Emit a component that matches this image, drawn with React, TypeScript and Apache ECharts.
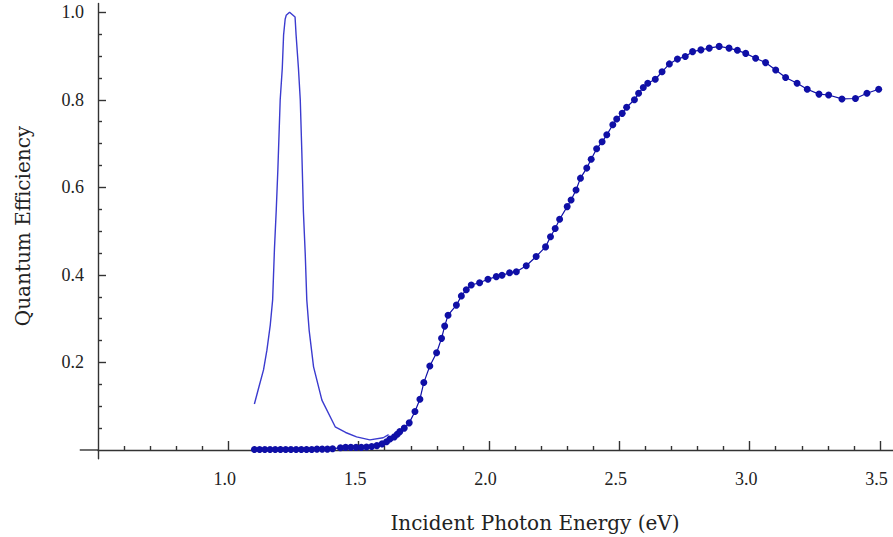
import React, { useEffect, useRef } from "react";
import * as echarts from "echarts";

// Thin reference line (emission/absorption peak)
const peakEnergy = [
  1.1, 1.116, 1.135, 1.148, 1.161, 1.17, 1.177, 1.184, 1.19, 1.199, 1.207, 1.212,
  1.218, 1.222, 1.235, 1.256, 1.26, 1.269, 1.276, 1.282, 1.288, 1.295, 1.301,
  1.31, 1.327, 1.359, 1.41, 1.45, 1.492, 1.543, 1.594, 1.615,
];
const peakValue = [
  0.105, 0.141, 0.183, 0.228, 0.286, 0.343, 0.46, 0.55, 0.64, 0.8, 0.872, 0.948,
  0.984, 0.993, 1.0, 0.989, 0.948, 0.872, 0.8, 0.68, 0.545, 0.449, 0.343,
  0.274, 0.19, 0.114, 0.053, 0.04, 0.03, 0.023, 0.028, 0.035,
];

// Measured quantum efficiency (dotted series)
const qeEnergy = [
  1.1, 1.12, 1.14, 1.16, 1.18, 1.2, 1.22, 1.24, 1.26, 1.28, 1.3, 1.32, 1.34, 1.36,
  1.38, 1.4, 1.43, 1.45, 1.47, 1.49, 1.51, 1.53, 1.55, 1.57, 1.59, 1.607, 1.62,
  1.637, 1.648, 1.658, 1.675, 1.694, 1.716, 1.735, 1.75, 1.773, 1.799, 1.818,
  1.83, 1.843, 1.875, 1.894, 1.913, 1.932, 1.964, 1.996, 2.028, 2.05, 2.079,
  2.105, 2.143, 2.181, 2.217, 2.236, 2.254, 2.271, 2.3, 2.315, 2.334, 2.351,
  2.375, 2.392, 2.413, 2.434, 2.452, 2.475, 2.49, 2.511, 2.528, 2.558, 2.574,
  2.592, 2.609, 2.638, 2.664, 2.692, 2.723, 2.753, 2.781, 2.813, 2.845, 2.883,
  2.921, 2.953, 2.985, 3.023, 3.061, 3.1, 3.138, 3.182, 3.221, 3.266, 3.303,
  3.354, 3.406, 3.45, 3.495,
];
const qeValue = [
  0.001, 0.001, 0.001, 0.001, 0.001, 0.001, 0.001, 0.001, 0.001, 0.001, 0.001,
  0.001, 0.002, 0.002, 0.002, 0.003, 0.005, 0.006, 0.006, 0.006, 0.006, 0.007,
  0.008, 0.01, 0.014, 0.019, 0.025, 0.03, 0.036, 0.042, 0.05, 0.062, 0.088,
  0.116, 0.154, 0.192, 0.222, 0.255, 0.283, 0.308, 0.331, 0.352, 0.366, 0.377,
  0.382, 0.39, 0.396, 0.399, 0.405, 0.407, 0.421, 0.442, 0.464, 0.487, 0.506,
  0.527, 0.556, 0.571, 0.594, 0.621, 0.644, 0.664, 0.688, 0.704, 0.72, 0.743,
  0.756, 0.769, 0.783, 0.8, 0.815, 0.828, 0.838, 0.847, 0.864, 0.882, 0.893,
  0.899, 0.91, 0.914, 0.918, 0.922, 0.918, 0.913, 0.906, 0.895, 0.885, 0.868,
  0.851, 0.838, 0.824, 0.813, 0.811, 0.802, 0.803, 0.815, 0.824,
];

// Axis ticks and labels
const xLabelTicks = [1.0, 1.5, 2.0, 2.5, 3.0, 3.5];
const xMinorTicks = [
  0.6, 0.7, 0.8, 0.9, 1.1, 1.2, 1.3, 1.4, 1.6, 1.7, 1.8, 1.9, 2.1, 2.2, 2.3, 2.4,
  2.6, 2.7, 2.8, 2.9, 3.1, 3.2, 3.3, 3.4,
];
const yLabelTicks = [0.2, 0.4, 0.6, 0.8, 1.0];
const yMinorTicks = [
  0.05, 0.1, 0.15, 0.25, 0.3, 0.35, 0.45, 0.5, 0.55, 0.65, 0.7, 0.75, 0.85, 0.9,
  0.95,
];

const xTitle = "Incident Photon Energy (eV)";
const yTitle = "Quantum Efficiency";

const AXIS_COLOR = "#333";
const TEXT_COLOR = "#222";

export default function App() {
  const ref = useRef<HTMLDivElement>(null);

  useEffect(() => {
    if (!ref.current) return;
    const chart = echarts.init(ref.current, undefined, { renderer: "svg" });

    const xMin = 0.5;
    const xMax = 3.55;
    const yMin = -0.02;
    const yMax = 1.02;

    const baseX = {
      type: "value" as const,
      min: xMin,
      max: xMax,
      position: "bottom" as const,
      splitLine: { show: false },
    };
    const baseY = {
      type: "value" as const,
      min: yMin,
      max: yMax,
      position: "left" as const,
      splitLine: { show: false },
    };

    chart.setOption({
      animation: false,
      backgroundColor: "#fff",
      grid: {
        left: 98,
        right: 0,
        top: 3.5,
        bottom: 78.25,
        containLabel: false,
        outerBoundsMode: "none",
      },
      xAxis: [
        {
          ...baseX,
          axisLine: { show: true, onZero: true, lineStyle: { color: AXIS_COLOR, width: 1.4 } },
          axisTick: {
            show: true,
            inside: true,
            length: 9,
            customValues: xLabelTicks,
            lineStyle: { color: AXIS_COLOR, width: 1.4 },
          },
          axisLabel: {
            show: true,
            customValues: xLabelTicks,
            formatter: (v: number) => v.toFixed(1),
            margin: 11,
            color: TEXT_COLOR,
            fontFamily: "Liberation Serif",
            fontSize: 18,
            padding: [0, 7, 0, 0],
          },
        },
        {
          ...baseX,
          axisLine: { show: true, onZero: true, lineStyle: { color: AXIS_COLOR, opacity: 0 } },
          axisTick: {
            show: true,
            inside: true,
            length: 4,
            customValues: xMinorTicks,
            lineStyle: { color: AXIS_COLOR, width: 1.4 },
          },
          axisLabel: { show: false },
        },
      ],
      yAxis: [
        {
          ...baseY,
          axisLine: { show: true, onZero: false, lineStyle: { color: AXIS_COLOR, width: 1.4 } },
          axisTick: {
            show: true,
            inside: true,
            length: 8,
            customValues: yLabelTicks,
            lineStyle: { color: AXIS_COLOR, width: 1.4 },
          },
          axisLabel: {
            show: true,
            customValues: yLabelTicks,
            formatter: (v: number) => v.toFixed(1),
            margin: 14,
            color: TEXT_COLOR,
            fontFamily: "Liberation Serif",
            fontSize: 18,
          },
        },
        {
          ...baseY,
          axisLine: { show: true, onZero: false, lineStyle: { color: AXIS_COLOR, opacity: 0 } },
          axisTick: {
            show: true,
            inside: true,
            length: 4,
            customValues: yMinorTicks,
            lineStyle: { color: AXIS_COLOR, width: 1.4 },
          },
          axisLabel: { show: false },
        },
      ],
      series: [
        {
          name: "Peak",
          type: "line",
          xAxisIndex: 0,
          yAxisIndex: 0,
          data: peakEnergy.map((x, i) => [x, peakValue[i]]),
          showSymbol: false,
          symbol: "none",
          lineStyle: { color: "#3b3bcf", width: 1.4 },
          z: 2,
        },
        {
          name: "Quantum Efficiency",
          type: "line",
          xAxisIndex: 0,
          yAxisIndex: 0,
          data: qeEnergy.map((x, i) => [x, qeValue[i]]),
          symbol: "circle",
          symbolSize: 7,
          showSymbol: true,
          itemStyle: { color: "#0f0fa6" },
          lineStyle: { color: "#0f0fa6", width: 1.2 },
          z: 3,
        },
      ],
    });

    const origin = chart.convertToPixel({ xAxisIndex: 0, yAxisIndex: 0 }, [xMin, 0]) as number[];
    const leftEnd = chart.convertToPixel({ xAxisIndex: 0, yAxisIndex: 0 }, [0.43, 0]) as number[];

    chart.setOption({
      graphic: [
        {
          type: "line",
          shape: { x1: leftEnd[0], y1: origin[1], x2: origin[0], y2: origin[1] },
          style: { stroke: AXIS_COLOR, lineWidth: 1.4 },
          silent: true,
        },
        {
          type: "text",
          x: 535,
          y: 523,
          style: {
            text: xTitle,
            fill: TEXT_COLOR,
            font: '20px "DejaVu Serif"',
            textAlign: "center",
            textVerticalAlign: "middle",
          },
          silent: true,
        },
        {
          type: "text",
          x: 23,
          y: 226,
          rotation: Math.PI / 2,
          style: {
            text: yTitle,
            fill: TEXT_COLOR,
            font: '20px "DejaVu Serif"',
            textAlign: "center",
            textVerticalAlign: "middle",
          },
          silent: true,
        },
      ],
    });

    return () => chart.dispose();
  }, []);

  return (
    <div
      ref={ref}
      style={{ position: "absolute", left: 0, top: 0, width: 893, height: 537, background: "#fff" }}
    />
  );
}
